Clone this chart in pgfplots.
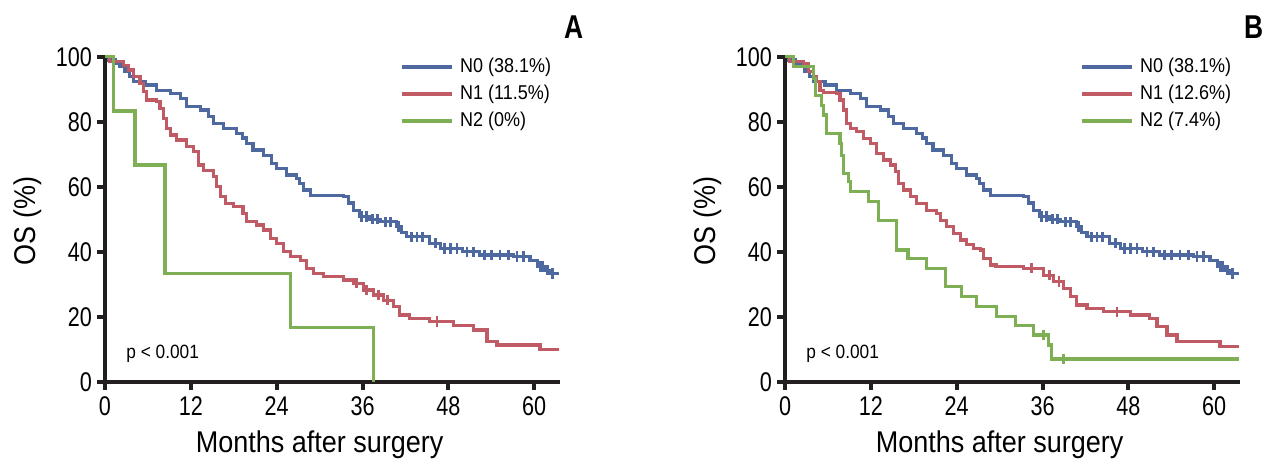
\documentclass[border=0pt]{standalone}
\usepackage{pgfplots}
\pgfplotsset{compat=1.18}
\usepackage{fontspec}
\setmainfont{Liberation Sans}[FakeStretch=0.8]
\newfontfamily\labelfont{Liberation Sans}[FakeStretch=0.9]
\definecolor{cN0}{RGB}{78,104,160}
\definecolor{cN1}{RGB}{192,90,100}
\definecolor{cN2}{RGB}{127,175,85}
\definecolor{axc}{RGB}{35,31,32}
\pgfplotsset{
  kmaxis/.style={
    scale only axis, width=227.5pt, height=163.3pt,
    xmin=0, xmax=63.6, ymin=0, ymax=100.5,
    axis lines=left,
    axis line style={-, line width=2pt, color=axc},
    xtick={0,12,...,60}, ytick={0,20,...,100},
    tick align=outside, major tick length=4pt,
    tick style={line width=2pt, color=axc},
    /pgf/number format/assume math mode=true,
    ticklabel style={font=\fontsize{13.5}{14}\selectfont},
    yticklabel style={xshift=1pt},
    xtick={0,12,...,60},
    xlabel={Months after surgery},
    ylabel={OS (\%)},
    label style={font=\labelfont\fontsize{15}{16}\selectfont},
    xlabel style={at={(axis description cs:0.4717,0)}, anchor=base, yshift=-35.6pt},
    ylabel style={at={(axis description cs:0,0.492)}, anchor=center, yshift=38.5pt},
    clip=false,
    legend cell align=left,
    legend image code/.code={\draw[#1, line width=2pt] (0pt,0pt) -- (25pt,0pt);},
    legend style={draw=none, fill=none, at={(axis cs:41.2,88.5)}, anchor=west,
      inner sep=0pt, row sep=4.7pt, column sep=3pt,
      font=\labelfont\fontsize{10}{11}\selectfont, nodes={inner sep=0pt}},
  },
  km/.style={const plot, line width=1.6pt, no marks},
  cens/.style={only marks, mark=|, mark size=2.6pt, mark options={line width=1.4pt}},
}
\begin{document}
\begin{tikzpicture}
\useasboundingbox (-52.5pt,-43.15pt) rectangle (587.5pt,190.85pt);
% ---------------- Panel A ----------------
\begin{axis}[kmaxis, at={(0pt,0pt)}, anchor=south west]
\addplot[km, color=cN0] coordinates {(0,100) (0.5,99) (1.5,98) (2.1,97) (2.8,95.5) (3.4,94) (4,92.3) (5.6,91.3) (7.2,89.7) (9.1,88.7) (10.5,87.2) (11.4,84.6) (13.3,83.6) (14.45,81.5) (15.2,79.5) (16.55,77.9) (18.4,76.4) (19.2,75) (19.8,73.3) (20.7,71.3) (22.1,69.7) (23.3,67.2) (24.0,65.6) (25.4,63.6) (26.8,62.6) (27.2,61) (27.7,59) (28.7,57.4) (33.3,56.9) (34.0,55) (34.7,52.8) (35.6,50.8) (37,50) (38.5,49.2) (40.8,47.7) (41.5,46) (42.2,44.6) (45.4,42.6) (46.9,41.0) (50,40) (52.4,39) (57.1,38.5) (59.4,37.4) (60.4,35.4) (61.5,34.3) (62.2,33.3) (63.4,33.3)};
\addlegendentry{N0 (38.1\%)}
\addplot[km, color=cN1] coordinates {(0,100) (0.6,98.5) (2.56,97.4) (3.3,95.9) (4.0,93.8) (4.9,91.8) (5.4,89.2) (5.8,86.7) (7.2,86.2) (7.7,84.1) (8.2,81) (8.6,77.9) (9.1,75.9) (10.0,74.4) (11.4,72.3) (12.4,70.8) (13.05,66.7) (13.75,65.1) (15.2,63.1) (15.6,60) (16.1,56.9) (16.8,54.9) (17.95,53.8) (19.3,51.8) (19.8,49.2) (21.2,48.2) (22.1,46.7) (23.1,44.1) (24.0,42.6) (24.9,40) (25.9,38.5) (27.3,37.4) (28.2,34.9) (29.1,33.3) (30.5,32.3) (33.3,31.3) (34.7,30.3) (36.1,28.2) (37.5,26.7) (38.9,25.1) (40.3,23.1) (41.2,20.5) (42.6,19.5) (45.4,18.5) (48.7,17.4) (51.5,15.9) (53.4,12.3) (54.8,11.3) (60.8,10.0) (63.4,10.0)};
\addlegendentry{N1 (11.5\%)}
\addplot[km, color=cN2] coordinates {(0,100) (1.2,83.3) (4.2,66.7) (8.4,33.3) (25.9,16.7) (37.5,0)};
\addlegendentry{N2 (0\%)}
\addplot[cens, color=cN0, forget plot] coordinates {(35.9,50.8) (36.6,50.8) (37.4,50) (38.1,50) (39.2,49.2) (39.9,49.2) (41.0,47.7) (42.8,44.6) (43.6,44.6) (44.4,44.6) (46.2,42.6) (47.5,41.0) (48.3,41.0) (49.2,41.0) (50.6,40) (51.5,40) (53.0,39) (54.0,39) (55.2,39) (56.4,39) (57.6,38.5) (58.5,38.5) (60.8,35.4) (61.2,35.4) (61.8,34.3) (62.6,33.3)};
\addplot[cens, color=cN1, forget plot] coordinates {(35.2,30.3) (36.6,28.2) (38.2,26.7) (39.5,25.1) (46.4,18.5)};
\node[anchor=base west, inner sep=0pt, font=\labelfont\fontsize{9.6}{10}\selectfont] at (axis cs:2.94,7.0) {p < 0.001};
\node[font=\bfseries\fontsize{16.5}{17}\selectfont] at (axis cs:65.5,109) {A};
\end{axis}
% ---------------- Panel B ----------------
\begin{axis}[kmaxis, at={(340pt,0pt)}, anchor=south west]
\addplot[km, color=cN0] coordinates {(0,100) (0.5,99) (1.5,98) (2.1,97) (2.8,95.5) (3.4,94) (4,92.3) (5.6,91.3) (7.2,89.7) (9.1,88.7) (10.5,87.2) (11.4,84.6) (13.3,83.6) (14.45,81.5) (15.2,79.5) (16.55,77.9) (18.4,76.4) (19.2,75) (19.8,73.3) (20.7,71.3) (22.1,69.7) (23.3,67.2) (24.0,65.6) (25.4,63.6) (26.8,62.6) (27.2,61) (27.7,59) (28.7,57.4) (33.3,56.9) (34.0,55) (34.7,52.8) (35.6,50.8) (37,50) (38.5,49.2) (40.8,47.7) (41.5,46) (42.2,44.6) (45.4,42.6) (46.9,41.0) (50,40) (52.4,39) (57.1,38.5) (59.4,37.4) (60.4,35.4) (61.5,34.3) (62.2,33.3) (63.4,33.3)};
\addlegendentry{N0 (38.1\%)}
\addplot[km, color=cN1] coordinates {(0,100) (0.6,98.5) (2.56,97.9) (3.3,95.4) (4.0,93.8) (4.4,92.3) (4.9,89.7) (5.4,88.9) (7.2,88.7) (7.7,86.7) (8.2,83.6) (8.6,79.5) (9.1,77.9) (10.0,76.9) (11.0,74.9) (11.9,73.3) (12.8,70.3) (13.75,68.2) (14.7,66.7) (15.4,64.6) (15.85,61) (16.55,59) (17.5,56.9) (18.4,54.9) (19.8,52.8) (21.2,51.8) (21.7,49.7) (22.6,47.7) (23.5,45.6) (24.5,43.6) (25.4,42.1) (26.3,41.0) (27.3,40.5) (27.7,37.9) (28.7,35.9) (29.5,35.4) (33.3,34.9) (36.1,32.8) (37.5,30.8) (38.9,28.7) (39.9,26.2) (40.8,23.6) (42.2,22.6) (44.5,21.5) (48.3,20.5) (51.0,19.5) (52.0,16.9) (53.4,14.4) (54.8,12.3) (60.8,10.8) (63.4,10.8)};
\addlegendentry{N1 (12.6\%)}
\addplot[km, color=cN2] coordinates {(0,100) (1.2,96.9) (4.0,93.3) (4.3,88) (5.1,85.1) (5.4,82.1) (5.8,76.4) (7.7,73.3) (7.9,69.7) (8.2,64.1) (8.9,61.5) (9.1,58.5) (11.7,55.4) (13.05,49.7) (15.6,40.5) (17.2,37.9) (19.8,34.9) (22.4,29.2) (24.7,26.2) (26.8,23.1) (29.6,20) (32.2,17.4) (34.7,14.4) (36.8,11.3) (37.3,7.0) (63.4,7.0)};
\addlegendentry{N2 (7.4\%)}
\addplot[cens, color=cN0, forget plot] coordinates {(35.9,50.8) (36.6,50.8) (37.4,50) (38.1,50) (39.2,49.2) (39.9,49.2) (41.0,47.7) (42.8,44.6) (43.6,44.6) (44.4,44.6) (46.2,42.6) (47.5,41.0) (48.3,41.0) (49.2,41.0) (50.6,40) (51.5,40) (53.0,39) (54.0,39) (55.2,39) (56.4,39) (57.6,38.5) (58.5,38.5) (60.8,35.4) (61.2,35.4) (61.8,34.3) (62.6,33.3)};
\addplot[cens, color=cN1, forget plot] coordinates {(34.5,34.9) (37.0,32.8) (38.3,30.8) (46.4,21.5)};
\addplot[cens, color=cN2, forget plot] coordinates {(36.1,14.4) (38.9,7.0)};
\node[anchor=base west, inner sep=0pt, font=\labelfont\fontsize{9.6}{10}\selectfont] at (axis cs:2.94,7.0) {p < 0.001};
\node[font=\bfseries\fontsize{16.5}{17}\selectfont] at (axis cs:65.5,109) {B};
\end{axis}
\end{tikzpicture}
\end{document}
